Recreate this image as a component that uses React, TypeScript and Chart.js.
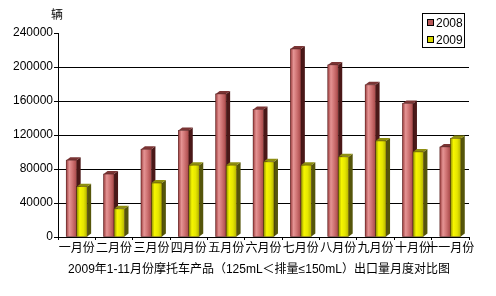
import React, { useEffect, useRef } from "react";
import { Chart, registerables } from "chart.js";

Chart.register(...registerables);

const categories = ["一月份", "二月份", "三月份", "四月份", "五月份", "六月份", "七月份", "八月份", "九月份", "十月份", "十一月份"];
const series2008 = [90400, 74000, 103200, 125400, 168300, 150000, 221200, 202500, 179000, 157000, 106000];
const series2009 = [59200, 33100, 63500, 84500, 84500, 88400, 84500, 94300, 113000, 100100, 116000];
const yTicks = [0, 40000, 80000, 120000, 160000, 200000, 240000];
const unitLabel = "辆";
const titleText = "2009年1-11月份摩托车产品（125mL＜排量≤150mL）出口量月度对比图";

const FONT = "'Liberation Sans', 'Noto Sans CJK SC', sans-serif";

const styles = [
  {
    front: [["0", "#9a3c3c"], ["0.3", "#e59494"], ["0.6", "#d07474"], ["1", "#a84848"]],
    side: "#4a1818",
    top: "#7a3434",
    swatch: "#b85858",
  },
  {
    front: [["0", "#8c8c00"], ["0.3", "#f6f600"], ["0.65", "#e6e600"], ["1", "#b4b400"]],
    side: "#55550a",
    top: "#8e8e10",
    swatch: "#d8d800",
  },
];

const DX = 4;
const DY = 3;

const bar3d = {
  id: "bar3d",
  afterDatasetsDraw(chart: any) {
    const ctx = chart.ctx;
    const ca = chart.chartArea;
    ctx.save();
    ctx.beginPath();
    ctx.rect(ca.left, ca.top - 10, ca.right - ca.left + 10, ca.bottom - ca.top + 10);
    ctx.clip();
    chart.data.datasets.forEach((_ds: any, di: number) => {
      const meta = chart.getDatasetMeta(di);
      const st = styles[di];
      meta.data.forEach((el: any) => {
        const { x, y, base, width } = el.getProps(["x", "y", "base", "width"], true);
        const l = x - width / 2;
        const r = x + width / 2;
        ctx.fillStyle = st.side;
        ctx.beginPath();
        ctx.moveTo(r, y);
        ctx.lineTo(r + DX, y - DY);
        ctx.lineTo(r + DX, base - DY);
        ctx.lineTo(r, base);
        ctx.closePath();
        ctx.fill();
        ctx.fillStyle = st.top;
        ctx.beginPath();
        ctx.moveTo(l, y);
        ctx.lineTo(l + DX, y - DY);
        ctx.lineTo(r + DX, y - DY);
        ctx.lineTo(r, y);
        ctx.closePath();
        ctx.fill();
        const g = ctx.createLinearGradient(l, 0, r, 0);
        st.front.forEach(([p, c]) => g.addColorStop(parseFloat(p), c));
        ctx.fillStyle = g;
        ctx.fillRect(l, y, width, base - y);
        ctx.strokeStyle = "rgba(40,10,10,0.6)";
        ctx.lineWidth = 0.6;
        ctx.strokeRect(l, y, width, base - y);
      });
    });
    ctx.restore();
  },
};

const extras = {
  id: "extras",
  afterDraw(chart: any) {
    const ctx = chart.ctx;
    const ca = chart.chartArea;
    ctx.save();
    ctx.font = `12px ${FONT}`;
    ctx.fillStyle = "#000";
    ctx.textAlign = "center";
    ctx.textBaseline = "middle";
    ctx.fillText(unitLabel, ca.left - 1, 16);
    ctx.fillText(titleText, 259, 270);
    const bx = 422, by = 13, bw = 42, bh = 34;
    ctx.fillStyle = "#fff";
    ctx.fillRect(bx, by, bw, bh);
    ctx.strokeStyle = "#000";
    ctx.lineWidth = 1;
    ctx.strokeRect(bx + 0.5, by + 0.5, bw, bh);
    chart.data.datasets.forEach((ds: any, i: number) => {
      const cy = by + 10 + i * 17;
      ctx.fillStyle = styles[i].swatch;
      ctx.fillRect(bx + 5, cy - 4, 7, 7);
      ctx.strokeStyle = "#000";
      ctx.strokeRect(bx + 5.5, cy - 3.5, 6, 6);
      ctx.fillStyle = "#000";
      ctx.textAlign = "left";
      ctx.textBaseline = "middle";
      ctx.font = `12px ${FONT}`;
      ctx.fillText(ds.label, bx + 14, cy + 1);
    });
    ctx.restore();
  },
};

export default function App() {
  const ref = useRef<HTMLCanvasElement | null>(null);
  useEffect(() => {
    if (!ref.current) return;
    const chart = new Chart(ref.current, {
      type: "bar",
      data: {
        labels: categories,
        datasets: [
          { label: "2008", data: series2008, backgroundColor: styles[0].swatch },
          { label: "2009", data: series2009, backgroundColor: styles[1].swatch },
        ],
      },
      options: {
        responsive: false,
        animation: false,
        events: [],
        layout: { padding: { left: 0, top: 33, right: 27, bottom: 40 } },
        datasets: {
          bar: { categoryPercentage: 0.56, barPercentage: 1.0 },
        },
        plugins: {
          legend: { display: false },
          tooltip: { enabled: false },
          title: { display: false },
        },
        scales: {
          x: {
            grid: {
              display: true,
              offset: true,
              drawOnChartArea: false,
              drawTicks: true,
              tickLength: 3,
              tickColor: "#000",
              color: "#000",
            },
            border: { display: true, color: "#000", width: 1 },
            ticks: {
              autoSkip: false,
              maxRotation: 0,
              minRotation: 0,
              padding: 1,
              color: "#000",
              font: { family: FONT, size: 12 },
            },
            afterFit(scale: any) {
              scale.height = 19;
            },
          },
          y: {
            min: 0,
            max: 240000,
            afterBuildTicks(scale: any) {
              scale.ticks = yTicks.map((v) => ({ value: v }));
            },
            grid: {
              color: (c: any) => (c.tick && (c.tick.value === 240000 || c.tick.value === 0) ? "rgba(0,0,0,0)" : "#000"),
              tickColor: "#000",
              tickLength: 4,
              lineWidth: 1,
            },
            border: { display: true, color: "#000", width: 1 },
            ticks: {
              padding: 1,
              color: "#000",
              font: { family: FONT, size: 12 },
              callback: (v: any) => String(v),
            },
            afterFit(scale: any) {
              scale.width = 58;
            },
          },
        },
      },
      plugins: [bar3d, extras],
    });
    return () => chart.destroy();
  }, []);
  return (
    <div style={{ position: "absolute", left: 0, top: 0, width: 496, height: 296, background: "#fff" }}>
      <canvas ref={ref} width={496} height={296} style={{ width: 496, height: 296 }} />
    </div>
  );
}
